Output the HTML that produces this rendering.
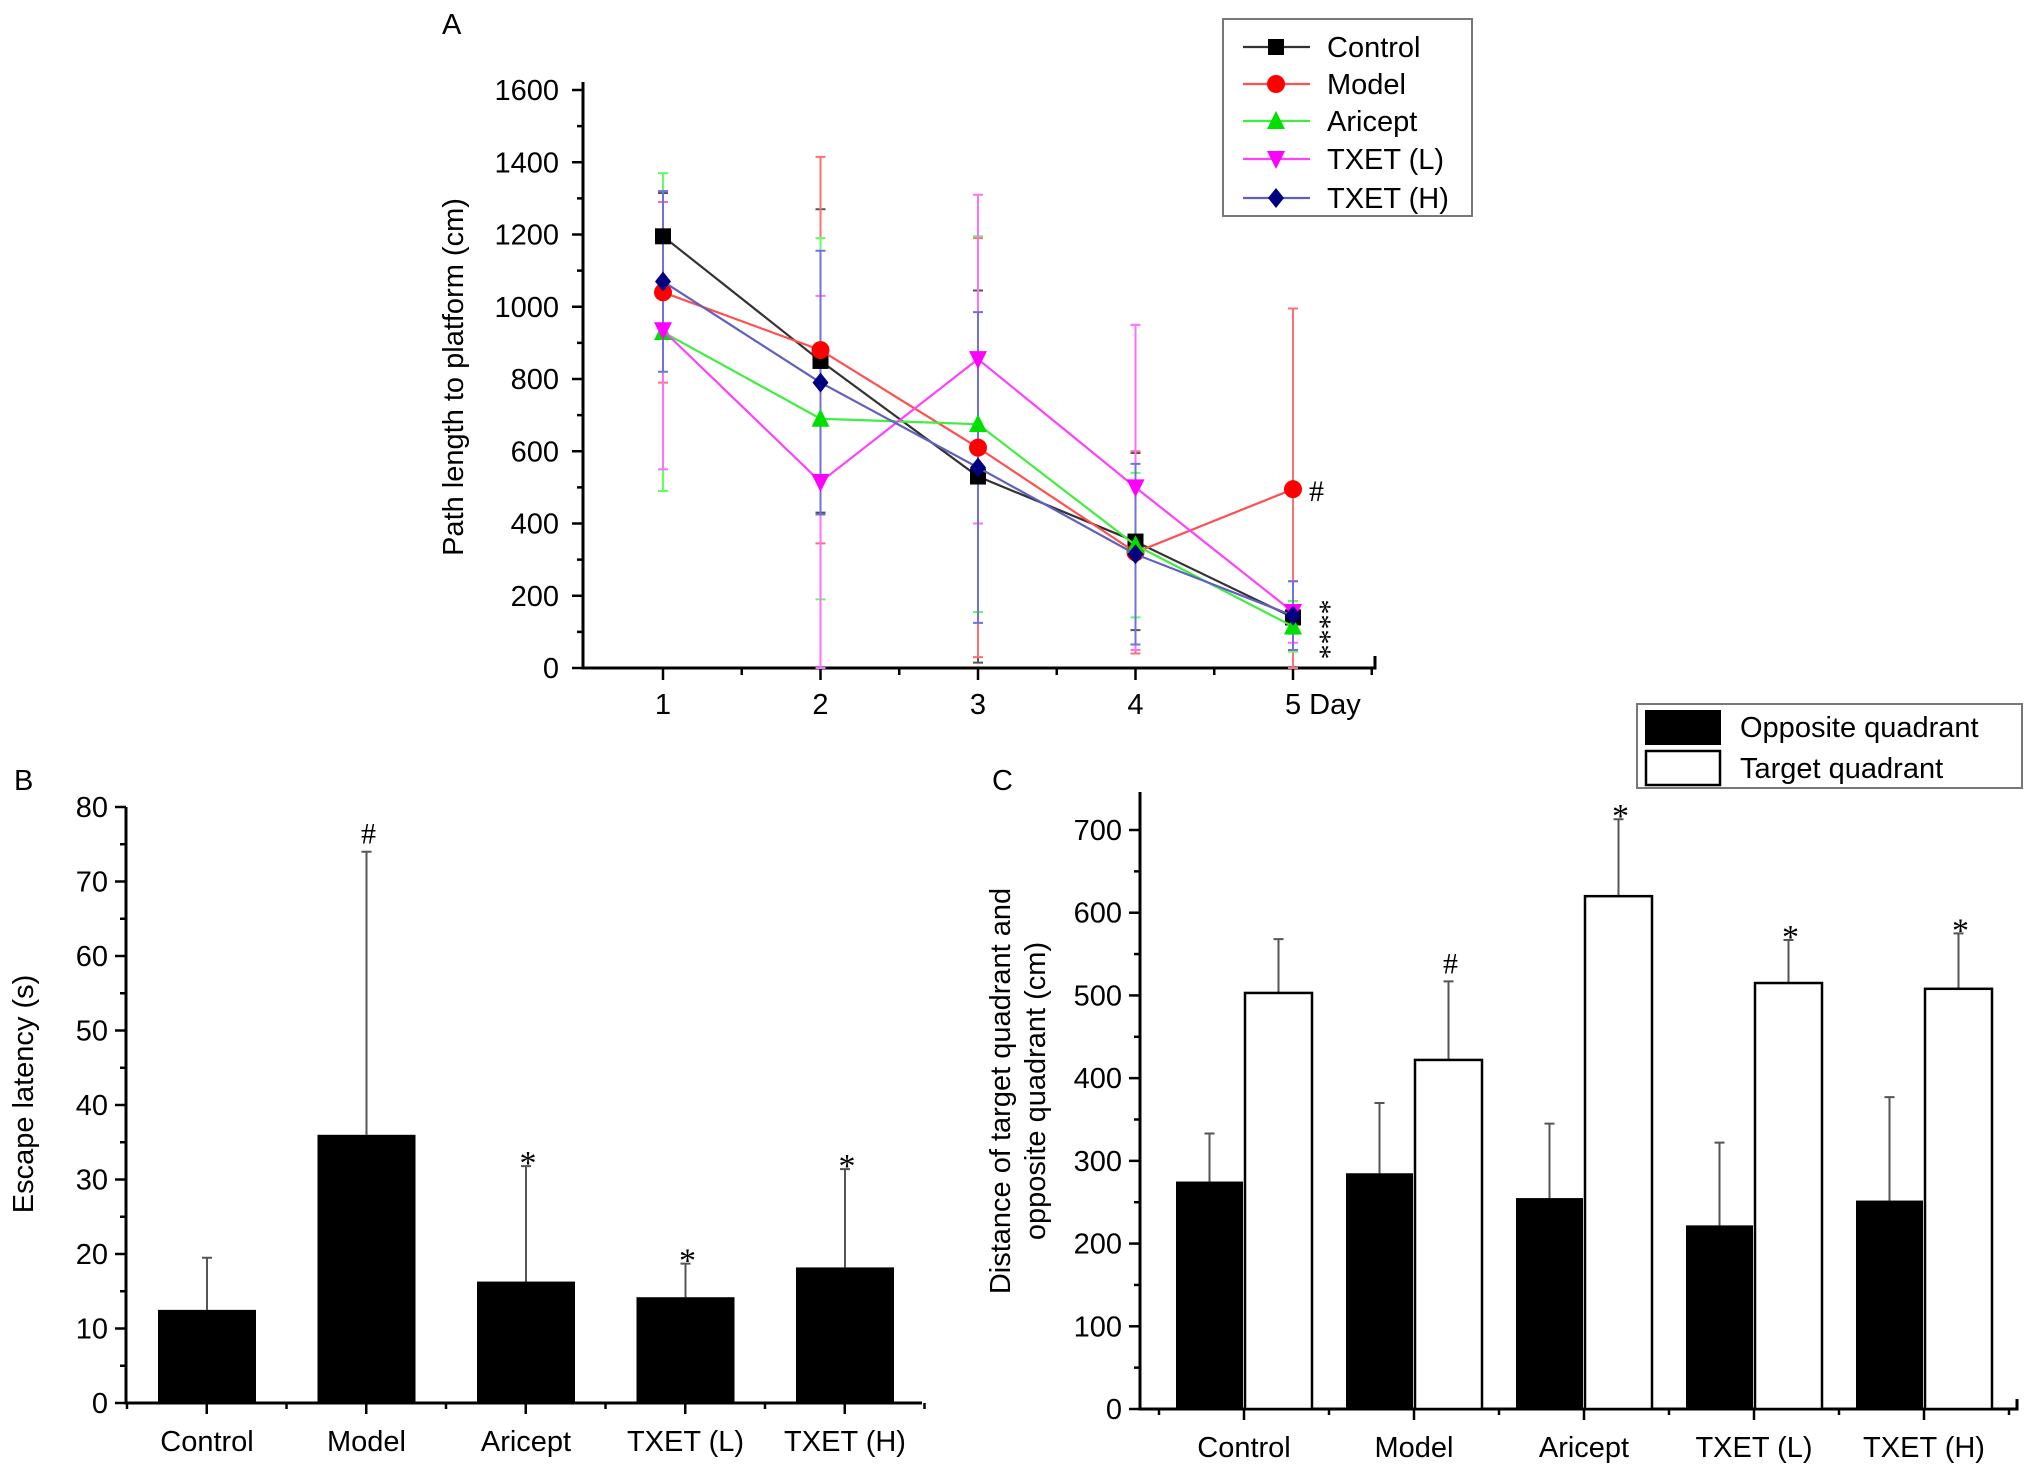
<!DOCTYPE html>
<html><head><meta charset="utf-8"><style>
html,body{margin:0;padding:0;background:#fff}
svg{display:block;font-family:"Liberation Sans",Arial,sans-serif}
</style></head><body>
<svg id="fig" width="2031" height="1472" viewBox="0 0 2031 1472" xmlns="http://www.w3.org/2000/svg">
<g id="A"></g>
<g id="B"></g>
<g id="C"></g>
</svg>
<script>
// ---- Panel A data ----
const daysA = [1,2,3,4,5];
const seriesNamesA = ["Control","Model","Aricept","TXET (L)","TXET (H)"];
const controlA = [1195,850,530,350,140];
const modelA = [1040,880,610,320,495];
const ariceptA = [930,690,675,340,115];
const txetLA = [935,515,855,500,155];
const txetHA = [1070,790,555,315,145];
const controlErrA = [120,420,515,245,45];
const modelErrA = [250,535,580,280,500];
const ariceptErrA = [440,500,520,200,70];
const txetLErrA = [385,515,455,450,85];
const txetHErrA = [250,365,430,250,95];
const yTicksA = [0,200,400,600,800,1000,1200,1400,1600];
// ---- Panel B data ----
const groupsB = ["Control","Model","Aricept","TXET (L)","TXET (H)"];
const latencyB = [12.5,36,16.3,14.2,18.2];
const latencyErrB = [7,38,15.5,4.5,13.2];
const marksB = ["","#","*","*","*"];
const yTicksB = [0,10,20,30,40,50,60,70,80];
// ---- Panel C data ----
const groupsC = ["Control","Model","Aricept","TXET (L)","TXET (H)"];
const oppositeC = [275,285,255,222,252];
const oppositeErrC = [58,85,90,100,125];
const targetC = [503,422,620,515,508];
const targetErrC = [65,95,93,52,67];
const marksC = ["","#","*","*","*"];
const yTicksC = [0,100,200,300,400,500,600,700];

const NS="http://www.w3.org/2000/svg";
const FS=29;
function mk(parent,tag,attrs,text){const e=document.createElementNS(NS,tag);for(const k in attrs)e.setAttribute(k,attrs[k]);if(text!==undefined)e.textContent=text;parent.appendChild(e);return e;}

// ===== Panel A =====
(function(){
const g=document.getElementById('A');
const x0=583,xEnd=1375,y0=668,yTop=90;
const xA=d=>663+(d-1)*(1293-663)/4;
const yA=v=>y0-(v/1600)*(y0-yTop);
let t;
t=mk(g,'text',{x:442,y:34,'font-size':FS});
t.textContent='A';
let ax=mk(g,'path',{d:`M${x0},${yTop-8}V${y0}H${xEnd}v-12`,stroke:'#000','stroke-width':3,fill:'none'});

for(let v=0;v<=1600;v+=100){mk(g,'line',{x1:x0-(v%200?6:11),x2:x0,y1:yA(v),y2:yA(v),stroke:'#000','stroke-width':2.5});}
yTicksA.forEach(v=>{t=mk(g,'text',{x:x0-24,y:yA(v)+10,'font-size':FS,'text-anchor':'end'},v);
});
for(let d=1;d<=5.5;d+=0.5){const xx=663+(d-1)*(1293-663)/4;mk(g,'line',{x1:xx,x2:xx,y1:y0,y2:y0+(d%1?7:12),stroke:'#000','stroke-width':2.5});}
daysA.forEach(d=>{t=mk(g,'text',{x:xA(d)+(d===5?-8:0),y:y0+46,'font-size':FS,'text-anchor':d===5?'start':'middle'},d===5?'5 Day':d);
});
t=mk(g,'text',{transform:'translate(463,377) rotate(-90)','font-size':FS,'text-anchor':'middle'},'Path length to platform (cm)');

const cols=['#000','#ff0000','#00e000','#ff00ff','#000080'];
const lineCols=['#333','#ff5050','#40ee40','#ff40ff','#6060c0'];
const errCols=['#555','#ff7070','#60ff60','#ff70ff','#7070e0'];
const vals=[controlA,modelA,ariceptA,txetLA,txetHA];
const errs=[controlErrA,modelErrA,ariceptErrA,txetLErrA,txetHErrA];
const shapes=['square','circle','up','down','diamond'];
function marker(p,s,x,y,c,n){let e;const r=8;
 if(s==='square')e=mk(p,'rect',{x:x-r,y:y-r,width:2*r,height:2*r,fill:c});
 else if(s==='circle')e=mk(p,'circle',{cx:x,cy:y,r:r+1,fill:c});
 else if(s==='up')e=mk(p,'polygon',{points:`${x},${y-r-2} ${x-r-1},${y+r} ${x+r+1},${y+r}`,fill:c});
 else if(s==='down')e=mk(p,'polygon',{points:`${x},${y+r+2} ${x-r-1},${y-r} ${x+r+1},${y-r}`,fill:c});
 else e=mk(p,'polygon',{points:`${x},${y-r-2} ${x+r},${y} ${x},${y+r+2} ${x-r},${y}`,fill:c});
 return e;}
vals.forEach((vs,si)=>{
 const sg=mk(g,'g',{});
 vs.forEach((v,i)=>{const lo=Math.max(0,v-errs[si][i]),hi=v+errs[si][i];
  const eb=mk(sg,'path',{d:`M${xA(daysA[i])},${yA(lo)}V${yA(hi)}M${xA(daysA[i])-5},${yA(lo)}h10M${xA(daysA[i])-5},${yA(hi)}h10`,stroke:errCols[si],'stroke-width':2,fill:'none'});
  });
});
vals.forEach((vs,si)=>{
 const pl=mk(g,'polyline',{points:vs.map((v,i)=>xA(daysA[i])+','+yA(v)).join(' '),stroke:lineCols[si],'stroke-width':2.2,fill:'none'});
 
 vs.forEach((v,i)=>marker(g,shapes[si],xA(daysA[i]),yA(v),cols[si],'point'));
});
t=mk(g,'text',{x:xA(5)+16,y:yA(modelA[4])+12,'font-size':30,'font-family':'Liberation Serif,serif'},'#');

t=mk(g,'text',{transform:`translate(${xA(5)+18},${yA(controlA[4])-18}) rotate(90)`,'font-size':30,'font-family':'Liberation Serif,serif'},'****');

const lg=mk(g,'g',{});
mk(lg,'rect',{x:1223,y:19,width:249,height:197,fill:'#fff',stroke:'#777','stroke-width':2});
const ly=[47,84,121,159,198];
seriesNamesA.forEach((n,i)=>{
 mk(lg,'line',{x1:1243,x2:1310,y1:ly[i],y2:ly[i],stroke:lineCols[i],'stroke-width':2.2});
 marker(lg,shapes[i],1276,ly[i],cols[i],'legend-marker');
 t=mk(lg,'text',{x:1327,y:ly[i]+10,'font-size':FS},n);
});
})();

// ===== Panel B =====
(function(){
const g=document.getElementById('B');
const x0=126,xEnd=922,y0=1403,yTop=807;
const yB=v=>y0-(v/80)*(y0-yTop);
const cx=i=>207+i*159.5;const bw=98;
let t=mk(g,'text',{x:14,y:790,'font-size':FS},'B');
let ax=mk(g,'path',{d:`M${x0},${yTop}V${y0}H${xEnd}`,stroke:'#000','stroke-width':3,fill:'none'});
for(let v=0;v<=80;v+=5)mk(g,'line',{x1:x0-(v%10?6:11),x2:x0,y1:yB(v),y2:yB(v),stroke:'#000','stroke-width':2.5});
yTicksB.forEach(v=>{t=mk(g,'text',{x:x0-18,y:yB(v)+10,'font-size':FS,'text-anchor':'end'},v);});
for(let i=0;i<=10;i++){const xx=127+i*79.75;mk(g,'line',{x1:xx,x2:xx,y1:y0,y2:y0+(i%2?11:6),stroke:'#000','stroke-width':2.5});}
t=mk(g,'text',{transform:'translate(33,1094) rotate(-90)','font-size':FS,'text-anchor':'middle'},'Escape latency (s)');
groupsB.forEach((n,i)=>{
 const hi=latencyB[i]+latencyErrB[i];
 const e=mk(g,'path',{d:`M${cx(i)},${yB(latencyB[i])}V${yB(hi)}M${cx(i)-5},${yB(hi)}h10`,stroke:'#555','stroke-width':2});
 const r=mk(g,'rect',{x:cx(i)-bw/2,y:yB(latencyB[i]),width:bw,height:y0-yB(latencyB[i]),fill:'#000'});
 t=mk(g,'text',{x:cx(i),y:y0+48,'font-size':FS,'text-anchor':'middle'},n);
 if(marksB[i]){t=mk(g,'text',{x:cx(i)+2,y:yB(hi)-(marksB[i]==='#'?8:-8),'font-size':marksB[i]==='#'?30:34,'text-anchor':'middle','font-family':'Liberation Serif,serif'},marksB[i]);}
});
})();

// ===== Panel C =====
(function(){
const g=document.getElementById('C');
const x0=1140,xEnd=2017,y0=1409,yTop=792;
const yC=v=>y0-(v/700)*(1409-830);
const tk=i=>1244+i*170;const bw=67;
let t=mk(g,'text',{x:992,y:790,'font-size':FS},'C');
let ax=mk(g,'path',{d:`M${x0},${yTop}V${y0}H${xEnd}v-10`,stroke:'#000','stroke-width':3,fill:'none'});
for(let v=0;v<=700;v+=50)mk(g,'line',{x1:x0-(v%100?6:11),x2:x0,y1:yC(v),y2:yC(v),stroke:'#000','stroke-width':2.5});
yTicksC.forEach(v=>{t=mk(g,'text',{x:x0-18,y:yC(v)+10,'font-size':FS,'text-anchor':'end'},v);});
for(let i=0;i<=10;i++){const xx=1159+i*85;mk(g,'line',{x1:xx,x2:xx,y1:y0,y2:y0+(i%2?11:6),stroke:'#000','stroke-width':2.5});}
t=mk(g,'text',{transform:'translate(1010,1091) rotate(-90)','font-size':FS,'text-anchor':'middle'},'Distance of target quadrant and');
t=mk(g,'text',{transform:'translate(1045,1091) rotate(-90)','font-size':FS,'text-anchor':'middle'},'opposite quadrant (cm)');
groupsC.forEach((n,i)=>{
 const xb=tk(i)-bw/2-1,xw=tk(i)+bw/2+1;
 let hi=oppositeC[i]+oppositeErrC[i];
 let e=mk(g,'path',{d:`M${xb},${yC(oppositeC[i])}V${yC(hi)}M${xb-5},${yC(hi)}h10`,stroke:'#555','stroke-width':2});
 let r=mk(g,'rect',{x:xb-bw/2,y:yC(oppositeC[i]),width:bw,height:y0-yC(oppositeC[i]),fill:'#000'});
 hi=targetC[i]+targetErrC[i];
 e=mk(g,'path',{d:`M${xw},${yC(targetC[i])}V${yC(hi)}M${xw-5},${yC(hi)}h10`,stroke:'#555','stroke-width':2});
 r=mk(g,'rect',{x:xw-bw/2,y:yC(targetC[i]),width:bw,height:y0-yC(targetC[i]),fill:'#fff',stroke:'#000','stroke-width':2.5});
 t=mk(g,'text',{x:tk(i),y:y0+48,'font-size':FS,'text-anchor':'middle'},n);
 if(marksC[i]){t=mk(g,'text',{x:xw+2,y:yC(hi)-(marksC[i]==='#'?8:-8),'font-size':marksC[i]==='#'?30:34,'text-anchor':'middle','font-family':'Liberation Serif,serif'},marksC[i]);}
});
const lg=mk(g,'g',{});
mk(lg,'rect',{x:1637,y:704,width:385,height:84,fill:'#fff',stroke:'#777','stroke-width':2});
mk(lg,'rect',{x:1645,y:710,width:76,height:35,fill:'#000'});
mk(lg,'rect',{x:1646,y:751,width:74,height:34,fill:'#fff',stroke:'#000','stroke-width':2.5});
t=mk(lg,'text',{x:1740,y:737,'font-size':FS},'Opposite quadrant');
t=mk(lg,'text',{x:1740,y:778,'font-size':FS},'Target quadrant');
})();
</script>
</body></html>
